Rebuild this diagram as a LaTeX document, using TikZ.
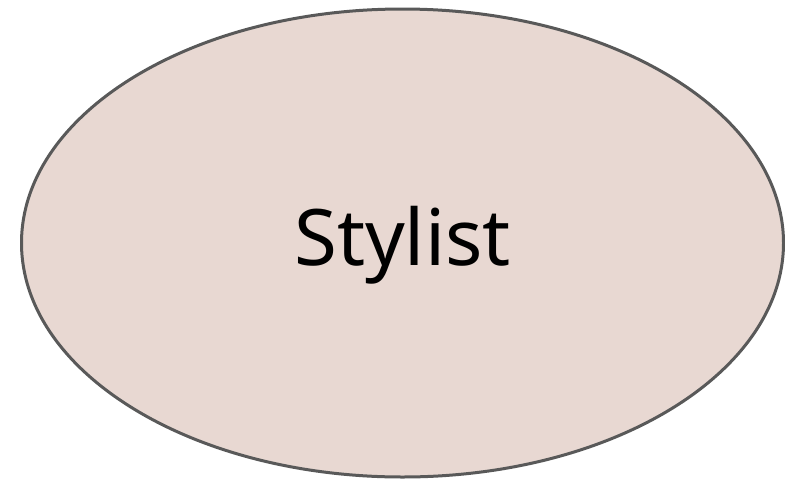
\documentclass[tikz,border=0pt]{standalone}
\usepackage{fontspec}
\setmainfont{Noto Sans}
\usetikzlibrary{shapes.geometric}
\definecolor{rolefill}{HTML}{E8D8D2}
\definecolor{roleline}{HTML}{595959}
\tikzset{role/.style={ellipse, draw=roleline, fill=rolefill, line width=3pt, inner sep=0pt,
    minimum width=762pt, minimum height=468pt, font=\fontsize{78}{82}\selectfont}}
\begin{document}
\begin{tikzpicture}[x=1pt, y=-1pt]
		\useasboundingbox (0,0) rectangle (785,483);
		\node[role] (stylist) at (402.5,243) {\raisebox{-2pt}[\height][\depth]{Stylist}};
	\end{tikzpicture}
\end{document}
